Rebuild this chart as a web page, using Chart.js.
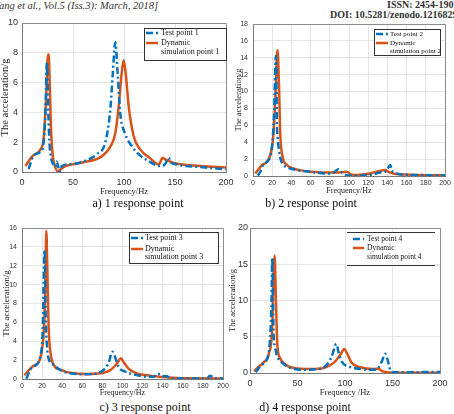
<!DOCTYPE html>
<html>
<head>
<meta charset="utf-8">
<script src="https://cdn.jsdelivr.net/npm/chart.js@4.4.0/dist/chart.umd.min.js"></script>
<style>
  body { margin: 0; width: 454px; height: 414px; overflow: hidden; background: #fff; position: relative; font-family: "Liberation Serif", serif; }
  canvas { position: absolute; }
  .hdr { position: absolute; white-space: nowrap; font-size: 10.5px; color: #333; line-height: 12px; }
  .cap { position: absolute; white-space: nowrap; font-size: 12px; color: #111; line-height: 14px; transform: translateX(-50%); }
</style>
</head>
<body>
<div class="hdr" style="left:-6px;top:0;font-style:italic">Yang et al., Vol.5 (Iss.3): March, 2018]</div>
<div class="hdr" style="left:387px;top:-1px;font-weight:bold;font-size:10px">ISSN: 2454-1907</div>
<div class="hdr" style="left:330px;top:9px;font-weight:bold;font-size:10px">DOI: 10.5281/zenodo.1216829</div>

<canvas id="cA" width="236" height="190" style="left:0;top:10px"></canvas>
<canvas id="cC" width="236" height="182" style="left:0;top:218px"></canvas>
<canvas id="cB" width="227" height="186" style="left:227px;top:14px"></canvas>
<canvas id="cD" width="227" height="182" style="left:227px;top:218px"></canvas>

<div class="cap" style="left:138px;top:196px">a) 1 response point</div>
<div class="cap" style="left:311px;top:196px">b) 2 response point</div>
<div class="cap" style="left:145px;top:400px">c) 3 response point</div>
<div class="cap" style="left:305px;top:400px">d) 4 response point</div>

<script>
// ---- data (Hz / g) ----
const test1F = [6.5, 11.4, 18, 21, 22.9, 24.5, 25.5, 26.8, 28.4, 31, 32.7, 34, 37, 39, 50.6, 63.7, 73.5, 81.7, 86.6, 89, 91.5, 93.8, 96.4, 101, 108, 116, 122.5, 132, 137, 140.5, 143.8, 145.4, 152, 175, 200];
const test1Y = [0.2, 1.1, 1.35, 1.9, 3.9, 7.4, 4.8, 2.1, 1.0, 0.45, 0.35, 0.7, 0.02, 0.4, 0.55, 0.8, 1.2, 2.0, 4.2, 6.6, 8.7, 6.6, 3.9, 2.6, 1.7, 1.1, 0.8, 0.45, 0.4, 0.55, 0.95, 0.7, 0.5, 0.33, 0.18];
const sim1F = [3.3, 10, 19.6, 21, 23.5, 25, 26.1, 27, 28.4, 30, 32, 35, 41, 60, 77, 86.6, 91.5, 94.8, 97.4, 99.7, 102, 104.6, 109.5, 116, 126, 132, 134, 138, 140.5, 149, 175, 200];
const sim1Y = [0.4, 1.05, 1.7, 2.1, 4.8, 7.5, 7.9, 6.4, 3.0, 1.2, 0.45, 0.05, 0.35, 0.65, 1.0, 1.7, 2.6, 4.4, 6.4, 7.5, 6.4, 4.4, 2.4, 1.5, 0.9, 0.55, 0.5, 0.95, 0.85, 0.6, 0.4, 0.3];

const test2F = [4.9, 7.6, 11, 16.3, 19.8, 21.8, 23.9, 25, 25.6, 27, 29, 31.9, 42, 59.6, 77, 84, 89, 90.8, 94, 99.5, 111.6, 125.5, 132, 137.6, 140.4, 143, 144.5, 148, 153, 181, 200];
const test2Y = [0.05, 0.5, 1.4, 1.9, 3.5, 7, 14.2, 5.8, 4.6, 3.1, 1.9, 1.3, 0.8, 0.5, 0.3, 0.4, 0.8, 0.6, 0.3, 0.05, 0.05, 0.2, 0.4, 0.5, 0.9, 1.3, 0.7, 0.4, 0.2, 0.1, 0.08];
const sim2F = [2.4, 9.4, 14.6, 18, 20.8, 23.2, 25, 25.6, 27, 28.4, 30.8, 35.4, 42, 59.6, 87, 97.7, 102, 108, 122, 132, 137.6, 141, 146, 164, 200];
const sim2Y = [0.3, 1.3, 1.7, 2.5, 4.3, 9, 14.5, 14.9, 11, 5, 2.3, 1.3, 0.9, 0.5, 0.4, 0.5, 0.2, 0.12, 0.3, 0.6, 0.7, 0.5, 0.3, 0.15, 0.08];

const test3F = [4.3, 8.3, 11.6, 15.6, 18.2, 20.5, 22.5, 23.6, 24.6, 27, 31.5, 38, 48, 61, 74.6, 81, 86, 90, 93, 96, 103, 111, 124, 131, 134, 138, 141, 144, 148, 164, 184, 187, 189, 192, 200];
const test3Y = [0.02, 1.0, 1.3, 1.65, 2.4, 4.8, 13.7, 6.5, 3.8, 2.0, 1.5, 0.95, 0.6, 0.5, 0.6, 0.95, 1.65, 2.9, 2.2, 1.3, 0.77, 0.5, 0.25, 0.25, 0.5, 0.53, 0.3, 0.3, 0.07, 0.05, 0.05, 0.35, 0.25, 0.07, 0.05];
const sim3F = [2.3, 8.3, 11.6, 16.6, 19.9, 21.9, 23.2, 24.2, 25.2, 26.5, 28.5, 31.5, 38, 51, 64.7, 78, 88, 94.5, 98.5, 101, 106, 114, 127.7, 144, 161, 200];
const sim3Y = [0.4, 1.1, 1.4, 1.8, 3.1, 5.5, 10, 15.7, 11.7, 5.5, 2.7, 1.5, 1.0, 0.6, 0.53, 0.6, 0.95, 1.65, 2.2, 1.8, 1.1, 0.6, 0.35, 0.18, 0.07, 0.05];

const test4F = [6, 9.4, 14.7, 18.9, 21, 22.7, 23.4, 24.8, 26.2, 28.7, 34, 42.7, 56.6, 74, 81, 86, 91, 93.4, 96.9, 104, 116, 130, 135, 138.8, 142.3, 144.8, 147.6, 151, 172, 186, 200];
const test4Y = [0.1, 0.7, 1.4, 2.3, 4.6, 10, 15.9, 5.5, 3.7, 2.3, 1.4, 0.7, 0.46, 0.6, 1.15, 2.3, 4.0, 2.75, 1.5, 0.9, 0.55, 0.46, 0.7, 1.6, 2.65, 1.85, 0.46, 0.1, 0.1, 0.15, 0.15];
const sim4F = [4.2, 9.4, 14.7, 20, 23.4, 24.8, 25.9, 27.3, 28.7, 31.5, 37.4, 46, 63.6, 77.6, 88, 95, 99.3, 102, 107, 116, 130, 135, 137.8, 142, 151, 200];
const sim4Y = [0.25, 0.9, 1.5, 2.75, 6.4, 13.8, 16.2, 10, 4.1, 2.1, 1.15, 0.7, 0.55, 0.7, 1.4, 2.5, 3.3, 2.75, 1.4, 0.8, 0.55, 0.6, 0.37, 0.15, 0.05, 0.05];

const testNames = ['Test point 1', 'Test point 2', 'Test point 3', 'Test point 4'];
const simNames = [['Dynamic', 'simulation point 1'], ['Dynamic', 'simulation point 2'], ['Dynamic', 'simulation point 3'], ['Dynamic', 'simulation point 4']];
const xTitles = ['Frequency/Hz', 'Frequency/Hz', 'Frequency/Hz', 'Frequency /Hz'];
const yTitle = 'The acceleration/g';

const BLUE = '#0072BD';
const ORANGE = '#D95319';

function pts(xs, ys) {
  return xs.map((x, i) => ({ x: x, y: ys[i] }));
}

// box around plot area
const frameBox = {
  id: 'frameBox',
  beforeDatasetsDraw(chart) {
    const a = chart.chartArea, c = chart.ctx;
    c.save();
    c.strokeStyle = '#8c8c8c';
    c.lineWidth = 1;
    c.beginPath();
    c.moveTo(a.left, Math.round(a.top) + 0.5);
    c.lineTo(Math.round(a.right) + 0.5, Math.round(a.top) + 0.5);
    c.lineTo(Math.round(a.right) + 0.5, a.bottom);
    c.stroke();
    c.restore();
  }
};

// legend with two-line label, drawn as a box
const boxLegend = {
  id: 'boxLegend',
  afterDraw(chart, args, o) {
    const c = chart.ctx;
    c.save();
    c.fillStyle = '#fff';
    c.fillRect(o.x, o.y, o.w, o.h);
    c.strokeStyle = '#333';
    c.lineWidth = 1;
    c.beginPath();
    c.moveTo(o.x, o.y + 0.5); c.lineTo(o.x + o.w, o.y + 0.5);
    c.moveTo(o.x, o.y + o.h + 0.5); c.lineTo(o.x + o.w, o.y + o.h + 0.5);
    if (o.full) {
      c.moveTo(o.x + 0.5, o.y); c.lineTo(o.x + 0.5, o.y + o.h);
      c.moveTo(o.x + o.w + 0.5, o.y); c.lineTo(o.x + o.w + 0.5, o.y + o.h + 1);
    }
    c.stroke();
    c.font = o.size + 'px "Liberation Serif"';
    c.textBaseline = 'middle';
    chart.data.datasets.forEach((ds, i) => {
      const ly = o.rows[i];
      c.strokeStyle = ds.borderColor;
      c.lineWidth = ds.borderWidth;
      c.setLineDash(ds.borderDash || []);
      c.beginPath();
      c.moveTo(o.lx, ly);
      c.lineTo(o.lx + o.lw, ly);
      c.stroke();
      c.setLineDash([]);
      c.fillStyle = '#111';
      ds.legendLines.forEach((t, j) => c.fillText(t, o.tx, ly + j * o.lh));
    });
    c.restore();
  }
};

function makeChart(id, k, s) {
  const datasets = [
    {
      label: testNames[k], legendLines: [testNames[k]],
      data: pts(s.tf, s.ty),
      borderColor: BLUE, borderWidth: 2.5, borderDash: [7, 3, 2, 3],
      pointRadius: 0, cubicInterpolationMode: 'monotone'
    },
    {
      label: simNames[k].join(' '), legendLines: simNames[k],
      data: pts(s.sf, s.sy),
      borderColor: ORANGE, borderWidth: 2.5,
      pointRadius: 0, cubicInterpolationMode: 'monotone'
    }
  ];

  new Chart(document.getElementById(id), {
    type: 'line',
    data: { datasets: datasets },
    options: {
      responsive: false,
      animation: false,
      layout: { autoPadding: false, padding: s.pad },
      plugins: {
        legend: { display: false },
        tooltip: { enabled: false },
        boxLegend: s.legend
      },
      scales: {
        x: {
          type: 'linear', min: 0, max: 200,
          ticks: { stepSize: s.xStep, color: '#333', font: { family: 'Liberation Sans', size: s.tick }, padding: s.xPad, maxRotation: 0, autoSkip: false },
          grid: { color: '#e4e4e4', drawTicks: false },
          border: { color: '#777' },
          title: { display: true, text: xTitles[k], color: '#222', font: { family: 'Liberation Serif', size: s.xt, lineHeight: 1 }, padding: { top: 0, bottom: s.xtPad } },
          afterFit: sc => { sc.height = s.xh; sc.paddingLeft = 0; sc.paddingRight = 0; }
        },
        y: {
          min: 0, max: s.yMax,
          ticks: { stepSize: s.yStep, color: '#333', font: { family: 'Liberation Sans', size: s.tick }, padding: s.yPad },
          grid: { color: '#e4e4e4', drawTicks: false },
          border: { color: '#777' },
          title: { display: true, text: yTitle, color: '#222', font: { family: 'Liberation Serif', size: s.yt, lineHeight: 1 }, padding: { top: s.ytPad, bottom: 0 } },
          afterFit: sc => { sc.width = s.yw; sc.paddingTop = 0; sc.paddingBottom = 0; }
        }
      }
    },
    plugins: [frameBox, boxLegend]
  });
}

makeChart('cA', 0, {
  tf: test1F, ty: test1Y, sf: sim1F, sy: sim1Y,
  yMax: 10, yStep: 2, xStep: 50, tick: 9,
  pad: { top: 13, right: 10, left: 0, bottom: 0 }, yw: 22, xh: 28,
  xPad: 5, yPad: 4, xt: 8.5, xtPad: 4, yt: 10.5, ytPad: 0,
  legend: { x: 144, y: 18, w: 82, h: 32, full: true, rows: [23, 33], lx: 146, lw: 12, tx: 161, lh: 9, size: 8 }
});

makeChart('cB', 1, {
  tf: test2F, ty: test2Y, sf: sim2F, sy: sim2Y,
  yMax: 18, yStep: 2, xStep: 20, tick: 7,
  pad: { top: 10, right: 9, left: 0, bottom: 0 }, yw: 26, xh: 24,
  xPad: 3, yPad: 5, xt: 8, xtPad: 5, yt: 8.5, ytPad: 8,
  legend: { x: 147, y: 15, w: 66, h: 26, full: true, rows: [20, 29], lx: 149, lw: 12, tx: 163, lh: 8, size: 7 }
});

makeChart('cC', 2, {
  tf: test3F, ty: test3Y, sf: sim3F, sy: sim3Y,
  yMax: 16, yStep: 2, xStep: 20, tick: 7,
  pad: { top: 10, right: 13, left: 0, bottom: 0 }, yw: 22, xh: 21,
  xPad: 3, yPad: 5, xt: 8, xtPad: 3, yt: 9, ytPad: 2,
  legend: { x: 129, y: 14, w: 89, h: 31, full: true, rows: [20, 31], lx: 131, lw: 12, tx: 145, lh: 8, size: 8 }
});

makeChart('cD', 3, {
  tf: test4F, ty: test4Y, sf: sim4F, sy: sim4Y,
  yMax: 20, yStep: 5, xStep: 50, tick: 9,
  pad: { top: 10, right: 14, left: 0, bottom: 0 }, yw: 23, xh: 27,
  xPad: 5, yPad: 2, xt: 8.5, xtPad: 3, yt: 8.5, ytPad: 2,
  legend: { x: 120, y: 14, w: 88, h: 33, full: false, rows: [21, 30], lx: 126, lw: 11, tx: 140, lh: 9, size: 7.5 }
});
</script>
</body>
</html>
